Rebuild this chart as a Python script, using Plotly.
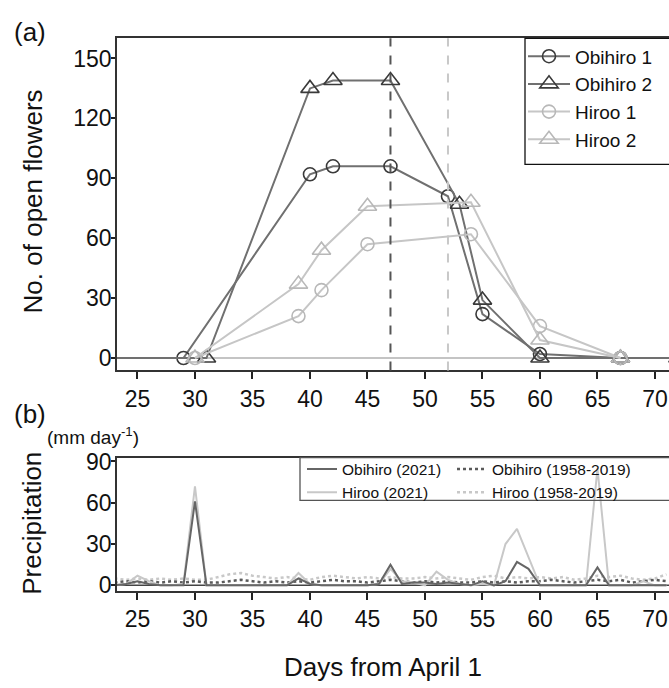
import plotly.graph_objects as go

# ---------------- Panel (a): open flowers ----------------
obi1_days = [22, 29, 40, 42, 47, 52, 55, 60, 67, 72]
obi1_vals = [0, 0, 92, 96, 96, 81, 22, 2, 0, 0]
obi2_days = [22, 31, 40, 42, 47, 53, 55, 60, 67, 72]
obi2_vals = [0, 0, 135, 139, 139, 77, 29, 0, 0, 0]
hir1_days = [30, 39, 41, 45, 54, 60, 67]
hir1_vals = [0, 21, 34, 57, 62, 16, 0]
hir2_days = [30, 39, 41, 45, 54, 60, 67]
hir2_vals = [0, 37, 54, 76, 78, 9, 0]
peak_obihiro = 47
peak_hiroo = 52

# ---------------- Panel (b): precipitation ----------------
prec_days = list(range(23, 72))
obi_2021 = [0, 1, 3, 1, 0, 0, 0, 61, 0, 0, 0, 0, 0, 0, 0, 0, 5, 1, 0, 0,
            0, 0, 0, 1, 15, 1, 2, 2, 1, 2, 1, 0, 3, 0, 3, 17, 12, 0, 0, 0,
            0, 0, 13, 0, 0, 0, 0, 0, 0]
hir_2021 = [0, 1, 7, 3, 0, 0, 1, 72, 0, 0, 0, 0, 0, 0, 0, 0, 9, 1, 0, 0,
            0, 0, 0, 1, 12, 3, 2, 0, 10, 4, 1, 0, 1, 0, 30, 41, 20, 0, 0, 0,
            0, 0, 85, 0, 0, 0, 3, 0, 0]
obi_clim = [2, 3, 2, 3, 2, 3, 2, 3, 2, 2, 3, 4, 3, 2, 3, 2, 3, 2, 3, 4,
            3, 3, 2, 3, 4, 3, 2, 3, 2, 3, 2, 2, 3, 2, 3, 2, 3, 3, 4, 3,
            2, 3, 4, 3, 4, 2, 3, 4, 3]
hir_clim = [5, 4, 5, 4, 5, 4, 5, 4, 4, 6, 8, 9, 7, 6, 5, 6, 5, 4, 6, 7,
            6, 5, 6, 5, 6, 5, 5, 6, 5, 6, 5, 4, 6, 7, 5, 6, 5, 6, 5, 6,
            4, 5, 7, 6, 7, 5, 4, 5, 8]

x_ticks = [25, 30, 35, 40, 45, 50, 55, 60, 65, 70]
ya_ticks = [0, 30, 60, 90, 120, 150]
yb_ticks = [0, 30, 60, 90]

W, H = 669, 688
FONT = "Liberation Sans, Arial, sans-serif"
DARK_LINE = "#707070"
DARK_MK = "#3a3a3a"
LIGHT_LINE = "#c6c6c6"
LIGHT_MK = "#b8b8b8"

def px(x):
    return x / W

def py(y):
    return 1 - y / H

fig = go.Figure()

# panel a traces
fig.add_trace(go.Scatter(x=obi1_days, y=obi1_vals, name="Obihiro 1", mode="lines+markers",
                         line=dict(color=DARK_LINE, width=2),
                         marker=dict(symbol="circle-open", size=13, color=DARK_MK, line=dict(width=1.6)),
                         xaxis="x", yaxis="y", legend="legend"))
fig.add_trace(go.Scatter(x=obi2_days, y=obi2_vals, name="Obihiro 2", mode="lines+markers",
                         line=dict(color=DARK_LINE, width=2),
                         marker=dict(symbol="triangle-up-open", size=16, color=DARK_MK, line=dict(width=1.6)),
                         xaxis="x", yaxis="y", legend="legend"))
fig.add_trace(go.Scatter(x=hir1_days, y=hir1_vals, name="Hiroo 1", mode="lines+markers",
                         line=dict(color=LIGHT_LINE, width=2),
                         marker=dict(symbol="circle-open", size=13, color=LIGHT_MK, line=dict(width=1.6)),
                         xaxis="x", yaxis="y", legend="legend"))
fig.add_trace(go.Scatter(x=hir2_days, y=hir2_vals, name="Hiroo 2", mode="lines+markers",
                         line=dict(color=LIGHT_LINE, width=2),
                         marker=dict(symbol="triangle-up-open", size=16, color=LIGHT_MK, line=dict(width=1.6)),
                         xaxis="x", yaxis="y", legend="legend"))

# panel b traces
fig.add_trace(go.Scatter(x=prec_days, y=hir_clim, name="Hiroo (1958-2019)", mode="lines",
                         line=dict(color="#c8c8c8", width=2.5, dash="dot"),
                         xaxis="x2", yaxis="y2", legend="legend3"))
fig.add_trace(go.Scatter(x=prec_days, y=obi_clim, name="Obihiro (1958-2019)", mode="lines",
                         line=dict(color="#5a5a5a", width=2.5, dash="dot"),
                         xaxis="x2", yaxis="y2", legend="legend3"))
fig.add_trace(go.Scatter(x=prec_days, y=hir_2021, name="Hiroo (2021)", mode="lines",
                         line=dict(color="#c8c8c8", width=2),
                         xaxis="x2", yaxis="y2", legend="legend2"))
fig.add_trace(go.Scatter(x=prec_days, y=obi_2021, name="Obihiro (2021)", mode="lines",
                         line=dict(color="#666666", width=2),
                         xaxis="x2", yaxis="y2", legend="legend2"))

axis_common = dict(showgrid=False, zeroline=False, ticks="outside", tickwidth=1.5,
                   tickcolor="#222", linecolor="#333", linewidth=1.5,
                   tickfont=dict(family=FONT, size=23, color="#111"))
xaxis_common = dict(ticklen=7, **axis_common)
yaxis_common = dict(ticklen=4, ticklabelstandoff=-5, **axis_common)

xr = [23.22, 71.22]
fig.update_layout(
    width=W, height=H, margin=dict(l=0, r=0, t=0, b=0),
    paper_bgcolor="white", plot_bgcolor="white",
    font=dict(family=FONT, color="#111"),
    xaxis=dict(domain=[px(117), 1], range=xr, tickvals=x_ticks, showline=True, mirror=True,
               anchor="y", **xaxis_common),
    yaxis=dict(domain=[py(370), py(30)], range=[-6.2, 160.1], tickvals=ya_ticks, showline=True,
               anchor="x", **yaxis_common),
    xaxis2=dict(domain=[px(117), 1], range=xr, tickvals=x_ticks, showline=True, mirror=True,
                anchor="y2", **xaxis_common),
    yaxis2=dict(domain=[py(595.7), py(459.3)], range=[-4.0, 92.8], tickvals=yb_ticks, showline=True,
                anchor="x2", **yaxis_common),
    legend=dict(x=px(523), y=py(29), xanchor="left", yanchor="top", bgcolor="rgba(0,0,0,0)",
                font=dict(family=FONT, size=19, color="#111"), itemwidth=42, tracegroupgap=0),
    legend2=dict(x=px(302), y=py(454), xanchor="left", yanchor="top", bgcolor="rgba(0,0,0,0)",
                 font=dict(family=FONT, size=15.5, color="#111"), itemwidth=30, traceorder="reversed"),
    legend3=dict(x=px(452), y=py(454), xanchor="left", yanchor="top", bgcolor="rgba(0,0,0,0)",
                 font=dict(family=FONT, size=15.5, color="#111"), itemwidth=30, traceorder="reversed"),
    showlegend=True,
)

shapes = [
    dict(type="line", xref="x", yref="paper", x0=peak_obihiro, x1=peak_obihiro, y0=py(370), y1=py(30),
         line=dict(color="#555555", width=2, dash="dash")),
    dict(type="line", xref="x", yref="paper", x0=peak_hiroo, x1=peak_hiroo, y0=py(370), y1=py(30),
         line=dict(color="#c8c8c8", width=2, dash="dash")),
    dict(type="line", xref="paper", yref="y", x0=px(117), x1=1, y0=0, y1=0,
         line=dict(color="#8a8a8a", width=1.2), layer="below"),
    dict(type="line", xref="paper", yref="y2", x0=px(117), x1=1, y0=0, y1=0,
         line=dict(color="#444444", width=1.5), layer="below"),
    dict(type="rect", xref="paper", yref="paper", x0=px(525), x1=1.1, y0=py(159), y1=py(30),
         line=dict(color="#111", width=1.3)),
    dict(type="rect", xref="paper", yref="paper", x0=px(300), x1=1.1, y0=py(503), y1=py(459.3),
         line=dict(color="#555", width=1.3)),
]
fig.update_layout(shapes=shapes)

annotations = [
    dict(text="(a)", x=px(12), y=py(24), xref="paper", yref="paper", xanchor="left", yanchor="middle",
         showarrow=False, font=dict(family=FONT, size=26, color="#111")),
    dict(text="(b)", x=px(12), y=py(415), xref="paper", yref="paper", xanchor="left", yanchor="middle",
         showarrow=False, font=dict(family=FONT, size=26, color="#111")),
    dict(text="(mm day<sup>-1</sup>)", x=px(45), y=py(437), xref="paper", yref="paper", xanchor="left",
         yanchor="middle", showarrow=False, font=dict(family=FONT, size=19, color="#111")),
    dict(text="No. of open flowers", x=px(33), y=py(197), xref="paper", yref="paper", xanchor="center",
         yanchor="middle", textangle=-90, showarrow=False, font=dict(family=FONT, size=26, color="#111")),
    dict(text="Precipitation", x=px(32), y=py(527), xref="paper", yref="paper", xanchor="center",
         yanchor="middle", textangle=-90, showarrow=False, font=dict(family=FONT, size=26, color="#111")),
    dict(text="Days from April 1", x=px(383), y=py(674), xref="paper", yref="paper", xanchor="center",
         yanchor="middle", showarrow=False, font=dict(family=FONT, size=26, color="#111")),
]
fig.update_layout(annotations=annotations)

fig.write_html("out.html", config={"displayModeBar": False},
               post_script="document.body.style.margin='0';document.body.style.padding='0';"
                           "document.documentElement.style.overflow='hidden';")
